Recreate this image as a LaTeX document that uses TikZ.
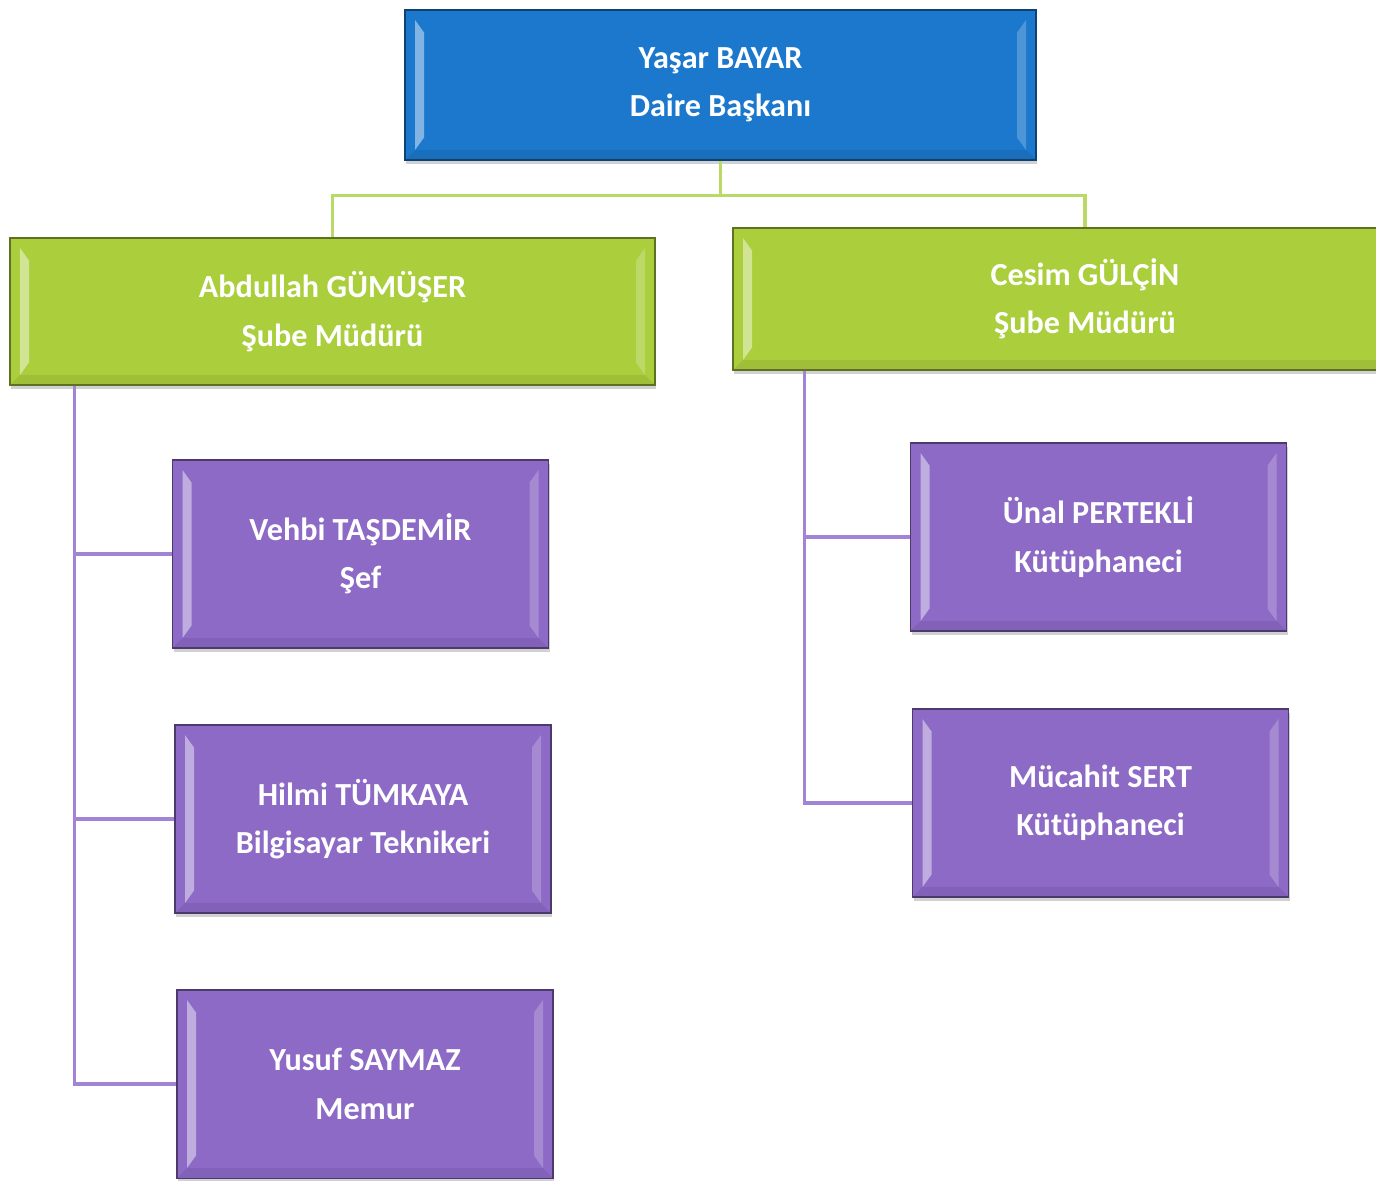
\documentclass[tikz,border=0pt]{standalone}
\usepackage{fontspec}
\setmainfont{Carlito}
\usetikzlibrary{calc, positioning, shadows}
\definecolor{mavi}{RGB}{28, 120, 204}
\definecolor{yesil}{RGB}{170, 206, 60}
\definecolor{mor}{RGB}{140, 106, 198}
\definecolor{yesilhat}{RGB}{186, 218, 104}
\definecolor{morhat}{RGB}{162, 132, 214}

\tikzset{
    kutu/.style={draw=#1!55!black, line width=0.6pt, fill=#1, text=white,
        font=\fontsize{18.3}{27.5}\selectfont\bfseries, align=center, inner sep=0pt,
        drop shadow={shadow xshift=0.8pt, shadow yshift=-2pt, opacity=0.3, fill=black!60},
        path picture={
            \fill[white, opacity=0.45] ($(path picture bounding box.north west)+(0.2,-0.2)$) -- ($(path picture bounding box.north west)+(0.38,-0.45)$) -- ($(path picture bounding box.south west)+(0.38,0.45)$) -- ($(path picture bounding box.south west)+(0.2,0.2)$) -- cycle;
            \fill[white, opacity=0.22] ($(path picture bounding box.north east)+(-0.2,-0.2)$) -- ($(path picture bounding box.north east)+(-0.38,-0.45)$) -- ($(path picture bounding box.south east)+(-0.38,0.45)$) -- ($(path picture bounding box.south east)+(-0.2,0.2)$) -- cycle;
            \fill[black, opacity=0.07] ($(path picture bounding box.south west)+(0.2,0.2)$) -- ($(path picture bounding box.south east)+(-0.2,0.2)$) -- (path picture bounding box.south east) -- (path picture bounding box.south west) -- cycle;
        }},
    baglanti/.style={draw=#1, line width=2.2pt}
}

\begin{document}
\begin{tikzpicture}
    \useasboundingbox (0, 0) rectangle (27.52, -23.6);
    \clip (0, 0) rectangle (27.52, -23.6);

    \node[kutu=mavi, minimum width=12.62cm, minimum height=3cm] (daire) at (14.41, -1.70) {Yaşar BAYAR\\Daire Başkanı};

    \node[kutu=yesil, minimum width=12.9cm, minimum height=2.94cm] (sube1) at (6.65, -6.23) {Abdullah GÜMÜŞER\\Şube Müdürü};
    \node[kutu=yesil, minimum width=14.08cm, minimum height=2.84cm] (sube2) at (21.70, -5.98) {Cesim GÜLÇİN\\Şube Müdürü};

    \node[kutu=mor, minimum width=7.52cm, minimum height=3.76cm] (sef) at (7.21, -11.08) {Vehbi TAŞDEMİR\\Şef};
    \node[kutu=mor, minimum width=7.52cm, minimum height=3.76cm] (tekn) at (7.26, -16.38) {Hilmi TÜMKAYA\\Bilgisayar Teknikeri};
    \node[kutu=mor, minimum width=7.52cm, minimum height=3.76cm] (memur) at (7.30, -21.68) {Yusuf SAYMAZ\\Memur};

    \node[kutu=mor, minimum width=7.52cm, minimum height=3.76cm] (kut1) at (21.97, -10.74) {Ünal PERTEKLİ\\Kütüphaneci};
    \node[kutu=mor, minimum width=7.52cm, minimum height=3.76cm] (kut2) at (22.01, -16.06) {Mücahit SERT\\Kütüphaneci};

    \coordinate (ayrim) at ($(daire.south)+(0, -0.7)$);
    \draw[baglanti=yesilhat] (daire.south) -- (ayrim);
    \draw[baglanti=yesilhat] (sube1.north) |- (ayrim) -| (sube2.north);

    \coordinate (sol) at ([xshift=1.3cm]sube1.south west);
    \draw[baglanti=morhat] (sol) |- (sef.west);
    \draw[baglanti=morhat] (sol) |- (tekn.west);
    \draw[baglanti=morhat] (sol) |- (memur.west);

    \coordinate (sag) at ([xshift=1.44cm]sube2.south west);
    \draw[baglanti=morhat] (sag) |- (kut1.west);
    \draw[baglanti=morhat] (sag) |- (kut2.west);
\end{tikzpicture}
\end{document}
